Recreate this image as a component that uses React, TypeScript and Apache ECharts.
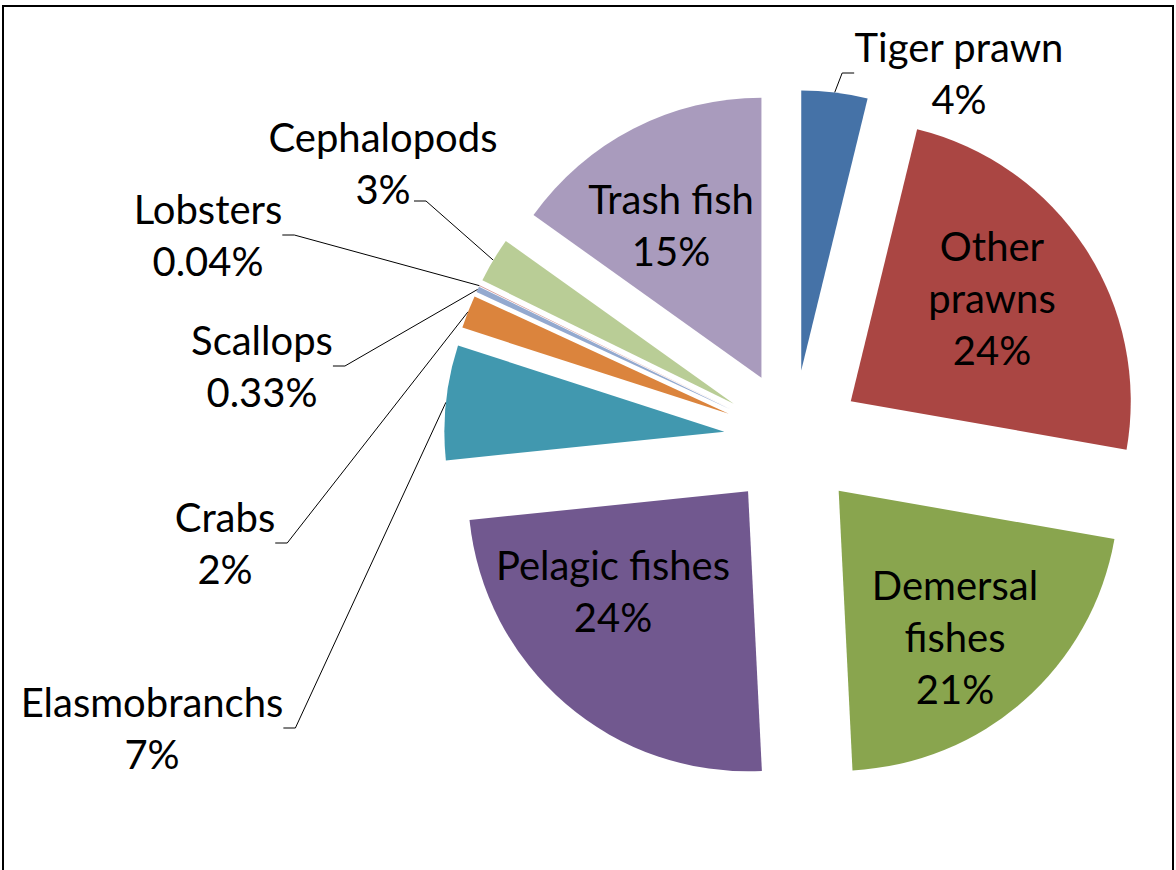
import React, { useEffect, useRef } from 'react';
import * as echarts from 'echarts';

// ---- data ----
const categories = [
  'Tiger prawn',
  'Other prawns',
  'Demersal fishes',
  'Pelagic fishes',
  'Elasmobranchs',
  'Crabs',
  'Scallops',
  'Lobsters',
  'Cephalopods',
  'Trash fish',
];
const labelNames = [
  'Tiger prawn',
  'Other\nprawns',
  'Demersal\nfishes',
  'Pelagic fishes',
  'Elasmobranchs',
  'Crabs',
  'Scallops',
  'Lobsters',
  'Cephalopods',
  'Trash fish',
];
const shares = [3.8, 23.9, 21.4, 24.1, 6.6, 1.9, 0.33, 0.04, 2.6, 15.1];
const colors = [
  '#4572A7',
  '#AA4643',
  '#89A54E',
  '#71588F',
  '#4198AF',
  '#DB843D',
  '#93A9CF',
  '#D19392',
  '#B9CD96',
  '#A99BBD',
];
const outsideLabel = [true, false, false, false, true, true, true, true, true, false];

// ---- layout ----
const CX = 793;
const CY = 439;
const RADIUS = 280;
const EXPLODE = 69;
const labelCentres: [number, number][] = [
  [959, 73],
  [992, 298],
  [955, 637],
  [613, 591],
  [152, 728],
  [225, 543],
  [262, 366],
  [208, 235],
  [383, 163],
  [671, 225],
];
// connector that attaches to the label's second line (Excel style) instead of the nearest side
const connectorAnchors: Record<number, [number, number]> = { 8: [414, 201] };

const fmtPct = (v: number) => (v < 1 ? v.toFixed(2) + '%' : Math.round(v) + '%');
const HIDDEN = 'rgba(0,0,0,0)';

export default function App() {
  const ref = useRef<HTMLDivElement>(null);

  useEffect(() => {
    const chart = echarts.init(ref.current as HTMLDivElement, null, { renderer: 'svg' });
    const total = shares.reduce((a, b) => a + b, 0);
    let cum = 0;
    const series = categories.map((name, i) => {
      const before = cum;
      const v = shares[i];
      cum += v;
      const after = total - cum;
      const mid = ((before + v / 2) / total) * Math.PI * 2;
      const cx = CX + EXPLODE * Math.sin(mid);
      const cy = CY - EXPLODE * Math.cos(mid);
      const outside = outsideLabel[i];
      return {
        type: 'pie',
        name,
        silent: true,
        center: [cx, cy],
        radius: [0, RADIUS],
        startAngle: 90,
        clockwise: true,
        avoidLabelOverlap: false,
        emphasis: { disabled: true },
        labelLayout: (params: any) => {
          if (params.dataIndex !== 1) return {};
          const c = labelCentres[i];
          const res: any = { x: c[0], y: c[1], align: 'center', verticalAlign: 'middle' };
          const anchor = connectorAnchors[i];
          if (anchor) {
            const ax = cx + RADIUS * Math.sin(mid);
            const ay = cy - RADIUS * Math.cos(mid);
            const dir = ax > anchor[0] ? 1 : -1;
            res.labelLinePoints = [
              [ax, ay],
              [anchor[0] + dir * 12, anchor[1]],
              [anchor[0], anchor[1]],
            ];
          }
          return res;
        },
        data: [
          {
            name: '_b' + i,
            value: before,
            itemStyle: { color: HIDDEN },
            label: { show: false },
            labelLine: { show: false },
          },
          {
            name,
            value: v,
            itemStyle: { color: colors[i], borderWidth: 0 },
            label: {
              show: true,
              position: outside ? 'outside' : 'inside',
              formatter: labelNames[i] + '\n' + fmtPct(v),
              fontFamily: 'Lato',
              fontSize: 40,
              lineHeight: 52,
              color: '#000',
              align: 'center',
            },
            labelLine: {
              show: outside,
              length: 10,
              length2: 12,
              lineStyle: { color: '#000', width: 1 },
            },
          },
          {
            name: '_a' + i,
            value: after,
            itemStyle: { color: HIDDEN },
            label: { show: false },
            labelLine: { show: false },
          },
        ],
      };
    });

    chart.setOption({
      animation: false,
      backgroundColor: '#ffffff',
      graphic: [
        {
          type: 'rect',
          silent: true,
          z: -10,
          shape: { x: 3, y: 6, width: 1170, height: 900 },
          style: { fill: 'none', stroke: '#000', lineWidth: 2 },
        },
      ],
      series,
    });
    return () => chart.dispose();
  }, []);

  return (
    <div
      ref={ref}
      style={{ position: 'absolute', left: 0, top: 0, width: 1176, height: 870 }}
    />
  );
}
